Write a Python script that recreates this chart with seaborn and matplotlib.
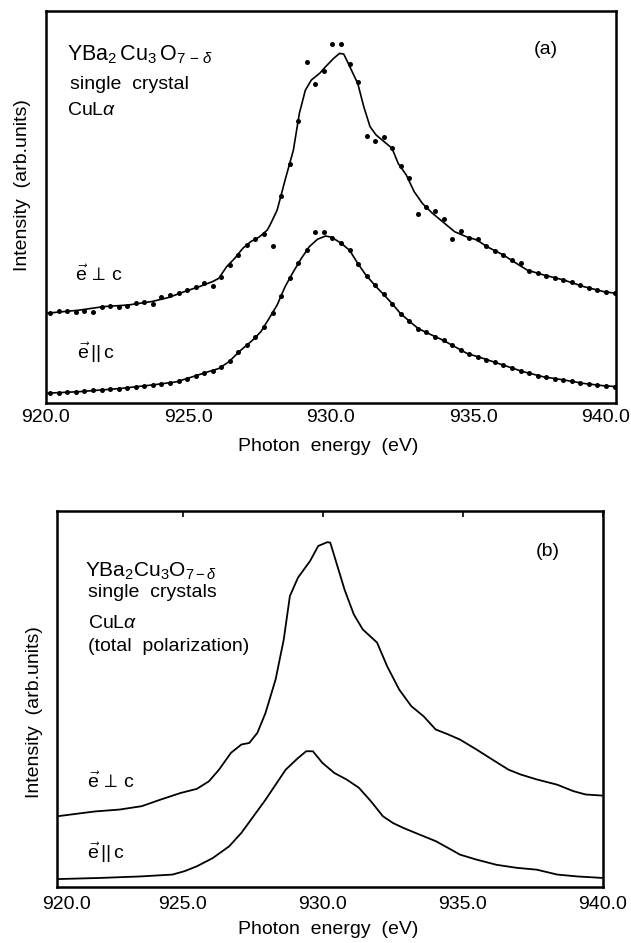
import matplotlib
matplotlib.use('Agg')
import matplotlib.pyplot as plt
import matplotlib.transforms as mtransforms
from matplotlib.ticker import FormatStrFormatter
import pandas as pd
import seaborn as sns

# ---------- panel (a): fitted curves ----------
perp_a_x = [920.00, 921.17, 922.02, 922.87, 923.72, 924.29, 924.85, 925.42, 925.85, 926.06,
            926.34, 926.62, 926.91, 927.19, 927.47, 927.76, 927.86, 928.11, 928.39, 928.68,
            928.89, 929.10, 929.31, 929.60, 929.81, 930.09, 930.30, 930.45, 930.66, 930.94,
            931.15, 931.37, 931.58, 931.86, 932.14, 932.36, 932.64, 932.92, 933.21, 933.56,
            933.91, 934.34, 934.76, 935.12, 935.47, 936.04, 936.60, 936.89, 937.45, 938.16,
            938.87, 939.58, 940.00]
perp_a_y = [22.9, 23.7, 24.6, 25.0, 25.9, 26.9, 28.4, 29.8, 31.0, 31.8,
            34.8, 36.9, 39.5, 41.2, 42.3, 44.1, 45.4, 49.2, 56.9, 64.5,
            73.9, 79.8, 82.4, 84.1, 85.8, 87.9, 89.2, 89.0, 85.8, 81.5,
            75.6, 70.5, 68.4, 66.7, 65.0, 61.1, 58.2, 53.9, 50.9, 48.4,
            46.3, 43.7, 42.4, 41.6, 39.9, 37.8, 35.2, 33.9, 32.7, 31.4,
            29.7, 28.4, 28.0]
par_a_x = [920.00, 921.17, 922.59, 923.72, 924.57, 925.14, 925.70, 926.06, 926.41, 926.84,
           927.26, 927.54, 927.83, 928.11, 928.39, 928.68, 928.96, 929.24, 929.53, 929.81,
           930.02, 930.37, 930.66, 930.94, 931.22, 931.58, 931.86, 932.14, 932.43, 932.78,
           933.06, 933.49, 933.91, 934.34, 934.76, 935.33, 936.04, 936.74, 937.45, 938.16,
           938.87, 939.58, 940.00]
par_a_y = [2.5, 2.9, 3.7, 4.6, 5.4, 6.7, 8.0, 8.8, 10.5, 13.5,
           16.1, 18.2, 21.6, 25.0, 29.7, 33.5, 36.9, 39.9, 41.8, 42.6,
           42.3, 40.7, 38.9, 35.6, 32.7, 29.7, 27.6, 25.4, 22.9, 20.7,
           19.0, 17.5, 16.1, 14.4, 12.7, 11.4, 9.7, 8.0, 6.7, 5.9,
           5.0, 4.4, 4.2]

# ---------- panel (a): measured points ----------
dot_energy = [920.15, 920.45, 920.75, 921.05, 921.35, 921.65, 921.95, 922.25, 922.55, 922.85,
              923.15, 923.45, 923.75, 924.05, 924.35, 924.65, 924.95, 925.25, 925.55, 925.85,
              926.15, 926.45, 926.75, 927.05, 927.35, 927.65, 927.95, 928.25, 928.55, 928.85,
              929.15, 929.45, 929.75, 930.05, 930.35, 930.65, 930.95, 931.25, 931.55, 931.85,
              932.15, 932.45, 932.75, 933.05, 933.35, 933.65, 933.95, 934.25, 934.55, 934.85,
              935.15, 935.45, 935.75, 936.05, 936.35, 936.65, 936.95, 937.25, 937.55, 937.85,
              938.15, 938.45, 938.75, 939.05, 939.35, 939.65, 939.95]
perp_dots = [22.9, 23.6, 23.6, 23.3, 23.6, 23.3, 24.4, 24.7, 24.4, 24.7,
             25.4, 25.7, 25.2, 27.0, 27.6, 28.1, 28.8, 29.5, 30.5, 29.8,
             32.2, 35.3, 37.8, 40.3, 41.9, 43.0, 40.0, 52.9, 61.0, 72.0,
             87.1, 81.4, 84.8, 91.5, 91.5, 86.4, 82.0, 68.2, 66.9, 67.9,
             65.0, 60.4, 57.3, 48.2, 49.9, 49.0, 47.0, 41.9, 44.0, 42.1,
             41.9, 40.1, 38.9, 37.8, 36.6, 35.6, 33.7, 33.2, 32.5, 32.0,
             31.3, 31.0, 30.0, 29.4, 28.9, 28.4, 28.0]
par_dots = [2.5, 2.6, 2.7, 2.8, 3.0, 3.2, 3.3, 3.5, 3.7, 3.9,
            4.1, 4.4, 4.6, 4.9, 5.2, 5.6, 6.2, 7.0, 7.6, 8.3,
            9.2, 10.8, 12.9, 14.8, 16.8, 19.5, 23.0, 27.4, 31.8, 35.6,
            39.0, 43.6, 43.7, 42.1, 40.8, 39.0, 35.5, 32.4, 30.0, 27.7,
            25.3, 22.8, 20.9, 19.0, 18.0, 16.9, 16.0, 14.8, 13.6, 12.5,
            11.8, 11.1, 10.4, 9.7, 9.0, 8.2, 7.6, 7.0, 6.6, 6.2,
            5.9, 5.5, 5.2, 4.9, 4.6, 4.4, 4.2]

# ---------- panel (b): total polarization ----------
perp_b_x = [920.52, 921.46, 921.89, 922.76, 923.55, 924.20, 924.93, 925.51, 925.94, 926.30,
            926.73, 927.10, 927.38, 927.67, 927.96, 928.32, 928.61, 928.83, 929.12, 929.55,
            929.84, 930.16, 930.27, 930.49, 930.78, 931.11, 931.43, 931.94, 932.30, 932.73,
            933.16, 933.60, 934.03, 934.47, 934.90, 935.48, 936.05, 936.63, 937.07, 937.64,
            938.37, 938.94, 939.38, 940.00]
perp_b_y = [18.8, 19.7, 20.1, 20.6, 21.5, 23.2, 25.0, 26.1, 28.1, 31.2,
            35.7, 37.9, 38.3, 41.0, 46.3, 55.2, 65.8, 77.4, 82.3, 86.7,
            90.7, 91.7, 91.6, 86.2, 79.1, 72.5, 68.5, 65.0, 58.7, 52.5,
            48.1, 45.4, 41.9, 40.6, 39.2, 36.6, 33.9, 31.2, 29.9, 28.6,
            27.2, 25.5, 24.6, 24.3]
par_b_x = [920.52, 922.04, 923.48, 924.64, 925.07, 925.51, 926.08, 926.66, 927.10, 927.53,
           927.96, 928.40, 928.68, 929.12, 929.41, 929.65, 929.99, 930.42, 930.85, 931.29,
           931.72, 932.15, 932.51, 932.88, 933.60, 934.03, 934.47, 934.90, 935.48, 936.20,
           936.92, 937.64, 938.37, 939.09, 940.00]
par_b_y = [2.1, 2.4, 2.8, 3.3, 4.2, 5.5, 7.7, 10.8, 14.4, 18.8,
           23.2, 28.1, 31.2, 34.3, 36.1, 36.1, 33.0, 30.3, 28.6, 26.4,
           22.8, 18.8, 17.0, 15.7, 13.5, 12.2, 10.4, 8.6, 7.3, 5.9,
           5.1, 4.6, 3.3, 2.8, 2.4]

ticks_a = [920.0, 925.0, 930.0, 935.0, 940.0]
ticks_b = [925.0, 930.0, 935.0, 940.0]

sns.set_style('white')
plt.rcParams['font.family'] = ['Liberation Sans', 'DejaVu Sans']
plt.rcParams['mathtext.fontset'] = 'custom'
plt.rcParams['mathtext.rm'] = 'Liberation Sans'
plt.rcParams['mathtext.it'] = 'Liberation Sans:italic'
plt.rcParams['mathtext.bf'] = 'Liberation Sans:bold'
plt.rcParams['text.color'] = 'black'
plt.rcParams['axes.labelcolor'] = 'black'
plt.rcParams['xtick.color'] = 'black'

fig = plt.figure(figsize=(6.31, 9.43), dpi=100)
ax_a = fig.add_axes([0.0729, 0.5726, 0.9033, 0.4157])
ax_b = fig.add_axes([0.0903, 0.0594, 0.8653, 0.3987])

fs = 14

# panel (a)
sns.lineplot(x=perp_a_x, y=perp_a_y, ax=ax_a, color='black', lw=1.2, sort=False, estimator=None)
sns.lineplot(x=par_a_x, y=par_a_y, ax=ax_a, color='black', lw=1.2, sort=False, estimator=None)
dots = pd.DataFrame({'E': dot_energy * 2, 'I': perp_dots + par_dots})
sns.scatterplot(data=dots, x='E', y='I', ax=ax_a, color='black', s=13, linewidth=0)

# panel (b)
sns.lineplot(x=perp_b_x, y=perp_b_y, ax=ax_b, color='black', lw=1.3, sort=False, estimator=None)
sns.lineplot(x=par_b_x, y=par_b_y, ax=ax_b, color='black', lw=1.3, sort=False, estimator=None)

for ax, ticks, pad in ((ax_a, ticks_a, 4.5), (ax_b, ticks_b, 6.5)):
    ax.set_xticks(ticks)
    ax.xaxis.set_major_formatter(FormatStrFormatter('%.1f'))
    ax.set_yticks([])
    ax.tick_params(axis='x', direction='in', length=4, width=1.2, labelsize=fs, pad=pad,
                   top=(ax is ax_b))
    for sp in ax.spines.values():
        sp.set_linewidth(1.8)
        sp.set_color('black')
    ax.set_xlabel('Photon  energy  (eV)', fontsize=fs)
    ax.set_ylabel('Intensity  (arb.units)', fontsize=fs)
    ax.set_ylim(0, 100)

# limits after the ticks so the ticks do not widen the view
ax_a.set_xlim(920.0, 940.0)
ax_b.set_xlim(920.52, 940.0)

ax_a.xaxis.set_label_coords(0.495, -0.089)
ax_a.yaxis.set_label_coords(-0.026, 0.556)
ax_b.xaxis.set_label_coords(0.496, -0.090)
ax_b.yaxis.set_label_coords(-0.026, 0.465)

# last label of (a) sits a little inside the frame
lab = ax_a.xaxis.get_major_ticks()[-1].label1
lab.set_transform(mtransforms.offset_copy(lab.get_transform(), fig=fig, x=-10, y=0, units='dots'))

# (b) frame starts just right of 920 eV; its label is drawn under the left corner
ax_b.annotate('920.0', xy=(0, 0), xycoords='axes fraction', xytext=(6.5, -6.5),
              textcoords='offset points', ha='center', va='top', fontsize=fs)

perp_lbl = r'$\vec{\mathrm{e}}\,\perp\,\mathrm{c}$'
par_lbl = r'$\vec{\mathrm{e}}\,\mathrm{||}\,\mathrm{c}$'
formula_a = r'YBa$_2\,$Cu$_3\,$O$_{7\,-\,\delta}$'
formula_b = r'YBa$_2$Cu$_3$O$_{7-\delta}$'

ax_a.text(0.037, 0.875, formula_a, transform=ax_a.transAxes, fontsize=15.5, va='baseline')
ax_a.text(0.042, 0.801, 'single  crystal', transform=ax_a.transAxes, fontsize=fs, va='baseline')
ax_a.text(0.037, 0.734, r'CuL$\alpha$', transform=ax_a.transAxes, fontsize=fs, va='baseline')
ax_a.text(0.856, 0.890, '(a)', transform=ax_a.transAxes, fontsize=fs, va='baseline')
ax_a.text(0.051, 0.311, perp_lbl, transform=ax_a.transAxes, fontsize=fs, va='baseline')
ax_a.text(0.054, 0.112, par_lbl, transform=ax_a.transAxes, fontsize=fs, va='baseline')

ax_b.text(0.051, 0.824, formula_b, transform=ax_b.transAxes, fontsize=15, va='baseline')
ax_b.text(0.057, 0.771, 'single  crystals', transform=ax_b.transAxes, fontsize=fs, va='baseline')
ax_b.text(0.057, 0.689, r'CuL$\alpha$', transform=ax_b.transAxes, fontsize=fs, va='baseline')
ax_b.text(0.057, 0.628, '(total  polarization)', transform=ax_b.transAxes, fontsize=fs, va='baseline')
ax_b.text(0.877, 0.880, '(b)', transform=ax_b.transAxes, fontsize=fs, va='baseline')
ax_b.text(0.055, 0.263, perp_lbl, transform=ax_b.transAxes, fontsize=fs, va='baseline')
ax_b.text(0.055, 0.074, par_lbl, transform=ax_b.transAxes, fontsize=fs, va='baseline')

fig.savefig('out.png', dpi=100)
